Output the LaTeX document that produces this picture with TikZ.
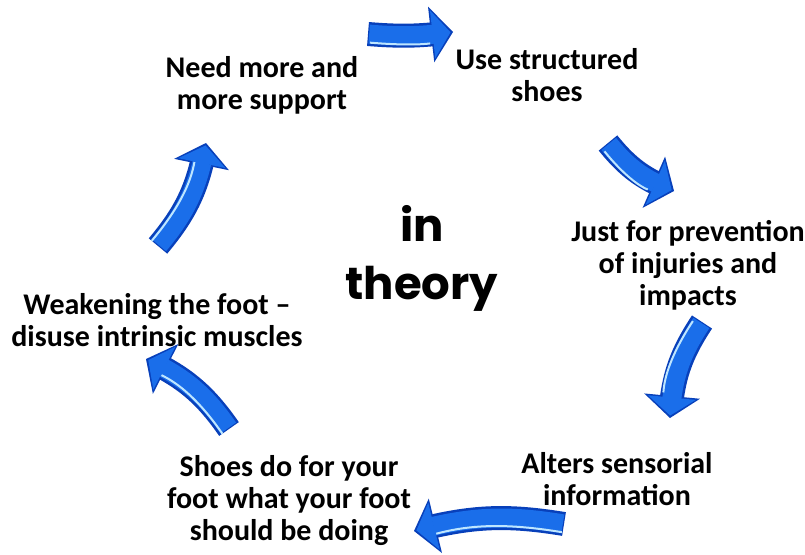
\documentclass[tikz,border=0pt]{standalone}
\usepackage{fontspec}
\setmainfont{Carlito}
\newfontfamily\theoryfont{Poppins}
\usetikzlibrary{arrows.meta,bending}

\definecolor{arrowblue}{RGB}{26,110,234}
\definecolor{arrowdark}{RGB}{8,64,186}
\definecolor{arrowlight}{RGB}{190,230,255}

\tikzset{
  steplabel/.style={font=\bfseries\fontsize{30}{32}\selectfont, align=center,
    text=black, inner sep=0pt, anchor=north},
  arrowbody/.style={line width=24pt, draw=arrowdark,
    -{Triangle[length=22pt,width=56pt,line width=0pt,fill=arrowdark,color=arrowdark]}},
  arrowcore/.style={line width=19pt, draw=arrowblue, shorten >=2.5pt, shorten <=1.2pt,
    -{Triangle[length=18pt,width=48pt,line width=0pt,fill=arrowblue,color=arrowblue]}},
  arrowshine/.style={line width=2pt, draw=arrowlight, shorten >=23pt, shorten <=2pt},
}

% curved block arrow: tail, tip, bend angle, highlight offset
\newcommand\cyclearrow[4]{%
  \draw[arrowbody] (#1) to[bend right=#3] (#2);
  \draw[arrowcore] (#1) to[bend right=#3] (#2);
  \begin{scope}[transform canvas={shift={(#4)}}]
    \draw[arrowshine] (#1) to[bend right=#3] (#2);
  \end{scope}
}

\begin{document}
\begin{tikzpicture}[x=1pt,y=-1pt]
  \useasboundingbox (0,0) rectangle (805,554);
  \fill[white] (0,0) rectangle (805,554);

  % step texts around the cycle
  \node[steplabel] (need)  at (262,56)  {Need more and\\more support};
  \node[steplabel] (use)   at (547,48)  {Use structured\\shoes};
  \node[steplabel] (just)  at (688,220) {Just for prevention\\of injuries and\\impacts};
  \node[steplabel] (alter) at (617,452) {Alters sensorial\\information};
  \node[steplabel] (shoes) at (289,455) {Shoes do for your\\foot what your foot\\should be doing};
  \node[steplabel] (weak)  at (157,293) {Weakening the foot –\\disuse intrinsic muscles};

  % centre title
  \node[font=\theoryfont\bfseries\fontsize{45}{58}\selectfont, align=center,
        inner sep=0pt, anchor=north] (title) at (422,205) {in\\theory};

  % arrow end points
  \coordinate (a1s) at (368,34);  \coordinate (a1e) at (453,32);
  \coordinate (a2s) at (608,143); \coordinate (a2e) at (674,191);
  \coordinate (a3s) at (702,322); \coordinate (a3e) at (670,418);
  \coordinate (a4s) at (564,524); \coordinate (a4e) at (414,531);
  \coordinate (a5s) at (229,429); \coordinate (a5e) at (146,359);
  \coordinate (a6s) at (158,246); \coordinate (a6e) at (206,143);

  \cyclearrow{a1s}{a1e}{6}{0,8.5}
  \cyclearrow{a2s}{a2e}{15}{-4.8,6.8}
  \cyclearrow{a3s}{a3e}{15}{-8,-2.6}
  \cyclearrow{a4s}{a4e}{12}{0,8.5}
  \cyclearrow{a5s}{a5e}{15}{-5.4,6.4}
  \cyclearrow{a6s}{a6e}{15}{-7.6,-3.6}
\end{tikzpicture}
\end{document}
